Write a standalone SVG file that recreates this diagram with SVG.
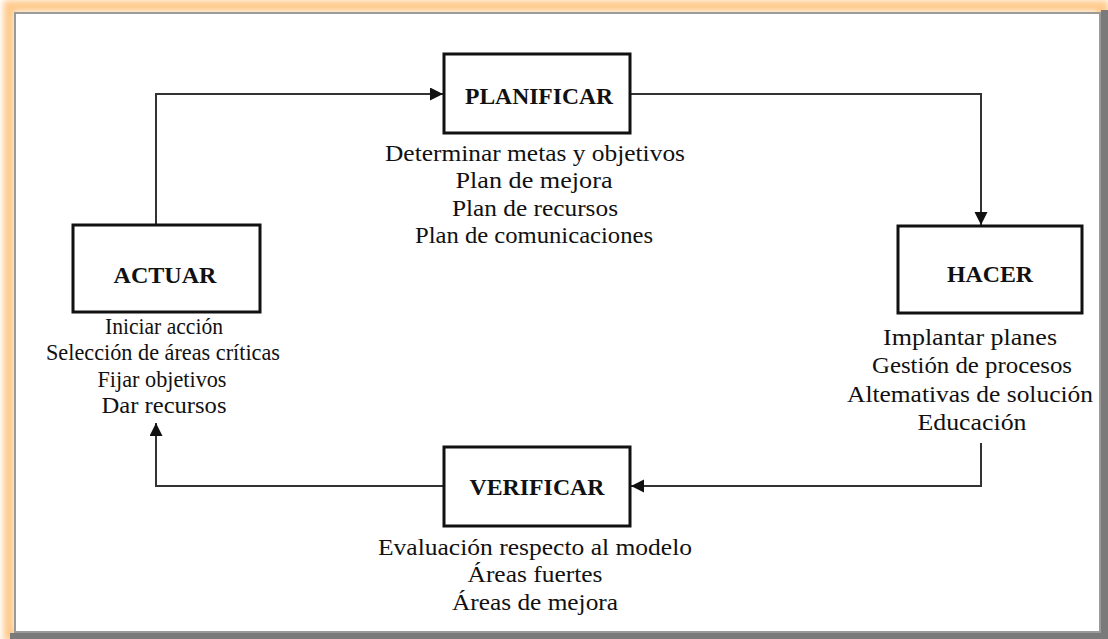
<svg xmlns="http://www.w3.org/2000/svg" width="1108" height="639" viewBox="0 0 1108 639">
<style>
.box{fill:#fff;stroke:#111;stroke-width:3}
.title{font-family:"Liberation Serif","Times New Roman",serif;font-weight:bold;font-size:24px;fill:#111;text-anchor:middle}
.item{font-family:"Liberation Serif","Times New Roman",serif;font-size:24px;fill:#111;text-anchor:middle}
.conn{fill:none;stroke:#333;stroke-width:2}
</style>
<defs>
<filter id="glow" x="-5%" y="-5%" width="110%" height="110%"><feGaussianBlur stdDeviation="3"/></filter>
<marker id="arr" markerUnits="userSpaceOnUse" markerWidth="14" markerHeight="14" refX="13" refY="6.5" orient="auto"><path d="M0,0 L13,6.5 L0,13 z" fill="#111"/></marker>
</defs>
<rect width="1108" height="639" fill="#fff"/>
<g id="frame">
<rect x="9" y="6" width="1094" height="630" fill="none" stroke="#ffc98a" stroke-width="11" filter="url(#glow)"/>
<rect x="1101" y="10" width="7" height="629" fill="#7a7a7a"/>
<rect x="10" y="633" width="1098" height="6" fill="#7a7a7a"/>
<rect x="15" y="13" width="1085" height="619" fill="#fff" stroke="#9a9a9a" stroke-width="2"/>
</g>
<g id="connectors">
<path class="conn" d="M156,225 V94 H443" marker-end="url(#arr)"/>
<path class="conn" d="M630,94 H981 V225" marker-end="url(#arr)"/>
<path class="conn" d="M981,443 V486 H631" marker-end="url(#arr)"/>
<path class="conn" d="M444,486 H156 V423" marker-end="url(#arr)"/>
</g>
<g id="planificar">
<rect class="box" x="444" y="54" width="186" height="79"/>
<text class="title" x="539" y="104" textLength="148" lengthAdjust="spacingAndGlyphs">PLANIFICAR</text>
<text class="item" x="535" y="161" textLength="300" lengthAdjust="spacingAndGlyphs">Determinar metas y objetivos</text>
<text class="item" x="534" y="188" textLength="157" lengthAdjust="spacingAndGlyphs">Plan de mejora</text>
<text class="item" x="535" y="216" textLength="166" lengthAdjust="spacingAndGlyphs">Plan de recursos</text>
<text class="item" x="534" y="243" textLength="238" lengthAdjust="spacingAndGlyphs">Plan de comunicaciones</text>
</g>
<g id="hacer">
<rect class="box" x="898" y="226" width="184" height="87"/>
<text class="title" x="990" y="282" textLength="86" lengthAdjust="spacingAndGlyphs">HACER</text>
<text class="item" x="970" y="345" textLength="174" lengthAdjust="spacingAndGlyphs">Implantar planes</text>
<text class="item" x="972" y="373" textLength="200" lengthAdjust="spacingAndGlyphs">Gestión de procesos</text>
<text class="item" x="970" y="402" textLength="246" lengthAdjust="spacingAndGlyphs">Altemativas de solución</text>
<text class="item" x="972" y="430" textLength="109" lengthAdjust="spacingAndGlyphs">Educación</text>
</g>
<g id="verificar">
<rect class="box" x="444" y="447" width="186" height="79"/>
<text class="title" x="537" y="495" textLength="135" lengthAdjust="spacingAndGlyphs">VERIFICAR</text>
<text class="item" x="535" y="555" textLength="314" lengthAdjust="spacingAndGlyphs">Evaluación respecto al modelo</text>
<text class="item" x="535" y="582" textLength="135" lengthAdjust="spacingAndGlyphs">Áreas fuertes</text>
<text class="item" x="535" y="610" textLength="166" lengthAdjust="spacingAndGlyphs">Áreas de mejora</text>
</g>
<g id="actuar">
<rect class="box" x="73" y="225" width="187" height="87"/>
<text class="title" x="165" y="283" textLength="103" lengthAdjust="spacingAndGlyphs">ACTUAR</text>
<text class="item" x="164" y="334" textLength="118" lengthAdjust="spacingAndGlyphs">Iniciar acción</text>
<text class="item" x="163" y="360" textLength="234" lengthAdjust="spacingAndGlyphs">Selección de áreas críticas</text>
<text class="item" x="162" y="387" textLength="129" lengthAdjust="spacingAndGlyphs">Fijar objetivos</text>
<text class="item" x="164" y="413" textLength="125" lengthAdjust="spacingAndGlyphs">Dar recursos</text>
</g>
</svg>
